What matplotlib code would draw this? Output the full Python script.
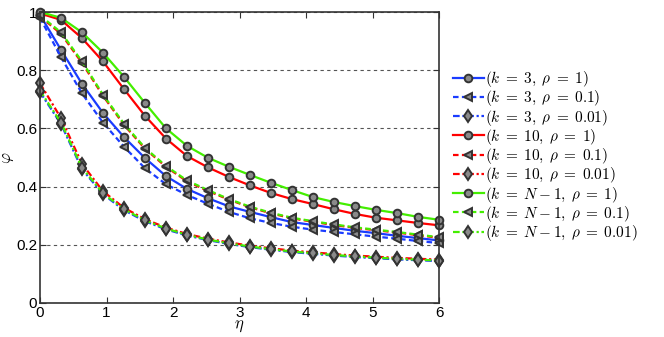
import numpy as np
import matplotlib
matplotlib.use("Agg")
import matplotlib.pyplot as plt

plt.rcParams['mathtext.fontset'] = 'cm'
plt.rcParams['font.family'] = ['Liberation Sans', 'DejaVu Sans']

eta = np.linspace(0, 6, 20)

# k = 3
k3_r1 = [0.99, 0.87, 0.753, 0.653, 0.57, 0.498, 0.436, 0.392, 0.36, 0.332,
         0.313, 0.295, 0.278, 0.268, 0.258, 0.248, 0.24, 0.231, 0.223, 0.215]
k3_r01 = [0.98, 0.845, 0.72, 0.62, 0.537, 0.463, 0.408, 0.371, 0.341, 0.313,
          0.291, 0.275, 0.262, 0.252, 0.244, 0.236, 0.228, 0.221, 0.213, 0.206]
k3_r001 = [0.725, 0.615, 0.46, 0.374, 0.319, 0.281, 0.253, 0.232, 0.216, 0.203,
           0.192, 0.183, 0.175, 0.169, 0.163, 0.158, 0.154, 0.15, 0.147, 0.144]
# k = 10
k10_r1 = [0.995, 0.973, 0.91, 0.83, 0.735, 0.643, 0.565, 0.505, 0.466, 0.433,
          0.404, 0.378, 0.357, 0.34, 0.322, 0.306, 0.293, 0.284, 0.275, 0.267]
k10_r01 = [0.985, 0.925, 0.825, 0.712, 0.612, 0.53, 0.468, 0.418, 0.385, 0.355,
           0.329, 0.308, 0.291, 0.279, 0.268, 0.258, 0.25, 0.242, 0.233, 0.224]
k10_r001 = [0.755, 0.635, 0.478, 0.384, 0.327, 0.288, 0.259, 0.237, 0.221, 0.208,
            0.197, 0.188, 0.18, 0.174, 0.168, 0.163, 0.159, 0.155, 0.152, 0.149]
# k = N-1
kN_r1 = [1.0, 0.98, 0.93, 0.86, 0.777, 0.687, 0.60, 0.54, 0.499, 0.468,
         0.44, 0.413, 0.388, 0.364, 0.347, 0.333, 0.32, 0.309, 0.296, 0.286]
kN_r01 = [0.988, 0.93, 0.83, 0.716, 0.616, 0.533, 0.471, 0.421, 0.388, 0.357,
          0.331, 0.31, 0.293, 0.281, 0.27, 0.26, 0.252, 0.244, 0.235, 0.226]
kN_r001 = [0.73, 0.62, 0.465, 0.377, 0.322, 0.284, 0.256, 0.234, 0.218, 0.205,
           0.194, 0.185, 0.177, 0.171, 0.165, 0.16, 0.156, 0.152, 0.149, 0.146]

labels = [r'$(k\;=\;3,\;\rho\;=\;1)$', r'$(k\;=\;3,\;\rho\;=\;0.1)$',
          r'$(k\;=\;3,\;\rho\;=\;0.01)$', r'$(k\;=\;10,\;\rho\;=\;1)$',
          r'$(k\;=\;10,\;\rho\;=\;0.1)$', r'$(k\;=\;10,\;\rho\;=\;0.01)$',
          r'$(k\;=\;N-1,\;\rho\;=\;1)$', r'$(k\;=\;N-1,\;\rho\;=\;0.1)$',
          r'$(k\;=\;N-1,\;\rho\;=\;0.01)$']
series = [k3_r1, k3_r01, k3_r001, k10_r1, k10_r01, k10_r001, kN_r1, kN_r01, kN_r001]
colors = ['#1a3cff'] * 3 + ['#ff0000'] * 3 + ['#44ee00'] * 3
styles = ['-', (0, (2.5, 1.5)), (0, (3, 1.2, 1, 1.2))] * 3
markers = ['o', '<', 'd'] * 3

fig = plt.figure(figsize=(6.64, 3.37), dpi=100)
ax = fig.add_axes([40 / 664, 34 / 337, 399 / 664, 291 / 337])

for y, lab, c, ls, m in zip(series, labels, colors, styles, markers):
    ax.plot(eta, y, color=c, linestyle=ls, linewidth=1.6, marker=m,
            markersize=5.5 if m != 'd' else 6, markerfacecolor='#8a8a8a',
            markeredgecolor='#333333', markeredgewidth=1.4, label=lab,
            clip_on=False)

ax.set_xlim(0, 6)
ax.set_ylim(0, 1)
ax.set_xticks(range(7))
ax.set_yticks([0, 0.2, 0.4, 0.6, 0.8, 1])
ax.set_yticklabels(['0', '0.2', '0.4', '0.6', '0.8', '1'])
ax.yaxis.grid(True, linestyle=(0, (3, 3)), color='#555555', linewidth=0.8)
ax.tick_params(direction='in', top=True, right=True, labelsize=11, length=4,
               color='#333333', pad=2)
for s in ax.spines.values():
    s.set_linewidth(1.2)
    s.set_color('#333333')

ax.set_xlabel(r'$\eta$', fontsize=12, labelpad=-1)
ax.set_ylabel(r'$\varphi$', fontsize=12, labelpad=0)

ax.legend(loc='center left', bbox_to_anchor=(1.02, 0.505), frameon=False,
          fontsize=11, handlelength=2.0, handletextpad=0.1, labelspacing=-0.05,
          borderaxespad=0)

fig.savefig('out.png', dpi=100)
